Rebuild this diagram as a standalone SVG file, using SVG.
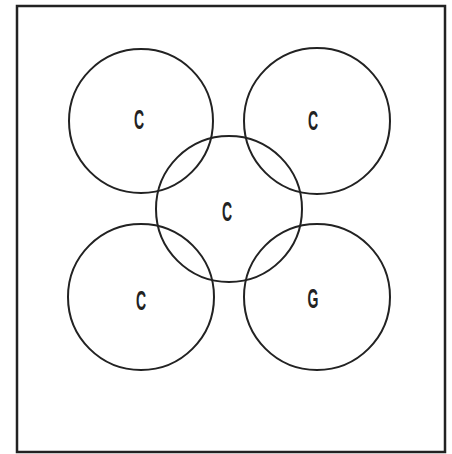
<svg xmlns="http://www.w3.org/2000/svg" width="452" height="454" viewBox="0 0 452 454">
<style>
.c{fill:none;stroke:#222;stroke-width:2}
.t{font-family:"Liberation Sans",Arial,sans-serif;font-size:28px;font-weight:bold;fill:#222;text-anchor:middle}
</style>
<rect width="452" height="454" fill="#fff"/>
<rect x="17" y="6" width="428" height="446" fill="none" stroke="#222" stroke-width="2.5"/>
<g id="n1"><circle class="c" cx="141" cy="121" r="72"/><text class="t" transform="translate(139,129) scale(0.5,1)">C</text></g>
<g id="n2"><circle class="c" cx="317" cy="121" r="73"/><text class="t" transform="translate(313,130) scale(0.5,1)">C</text></g>
<g id="n3"><circle class="c" cx="229" cy="209" r="73"/><text class="t" transform="translate(227,221) scale(0.5,1)">C</text></g>
<g id="n4"><circle class="c" cx="141" cy="297" r="73"/><text class="t" transform="translate(141,310) scale(0.5,1)">C</text></g>
<g id="n5"><circle class="c" cx="317" cy="297" r="73"/><text class="t" transform="translate(313,308) scale(0.5,1)">G</text></g>
<g id="connectors"></g>
</svg>
